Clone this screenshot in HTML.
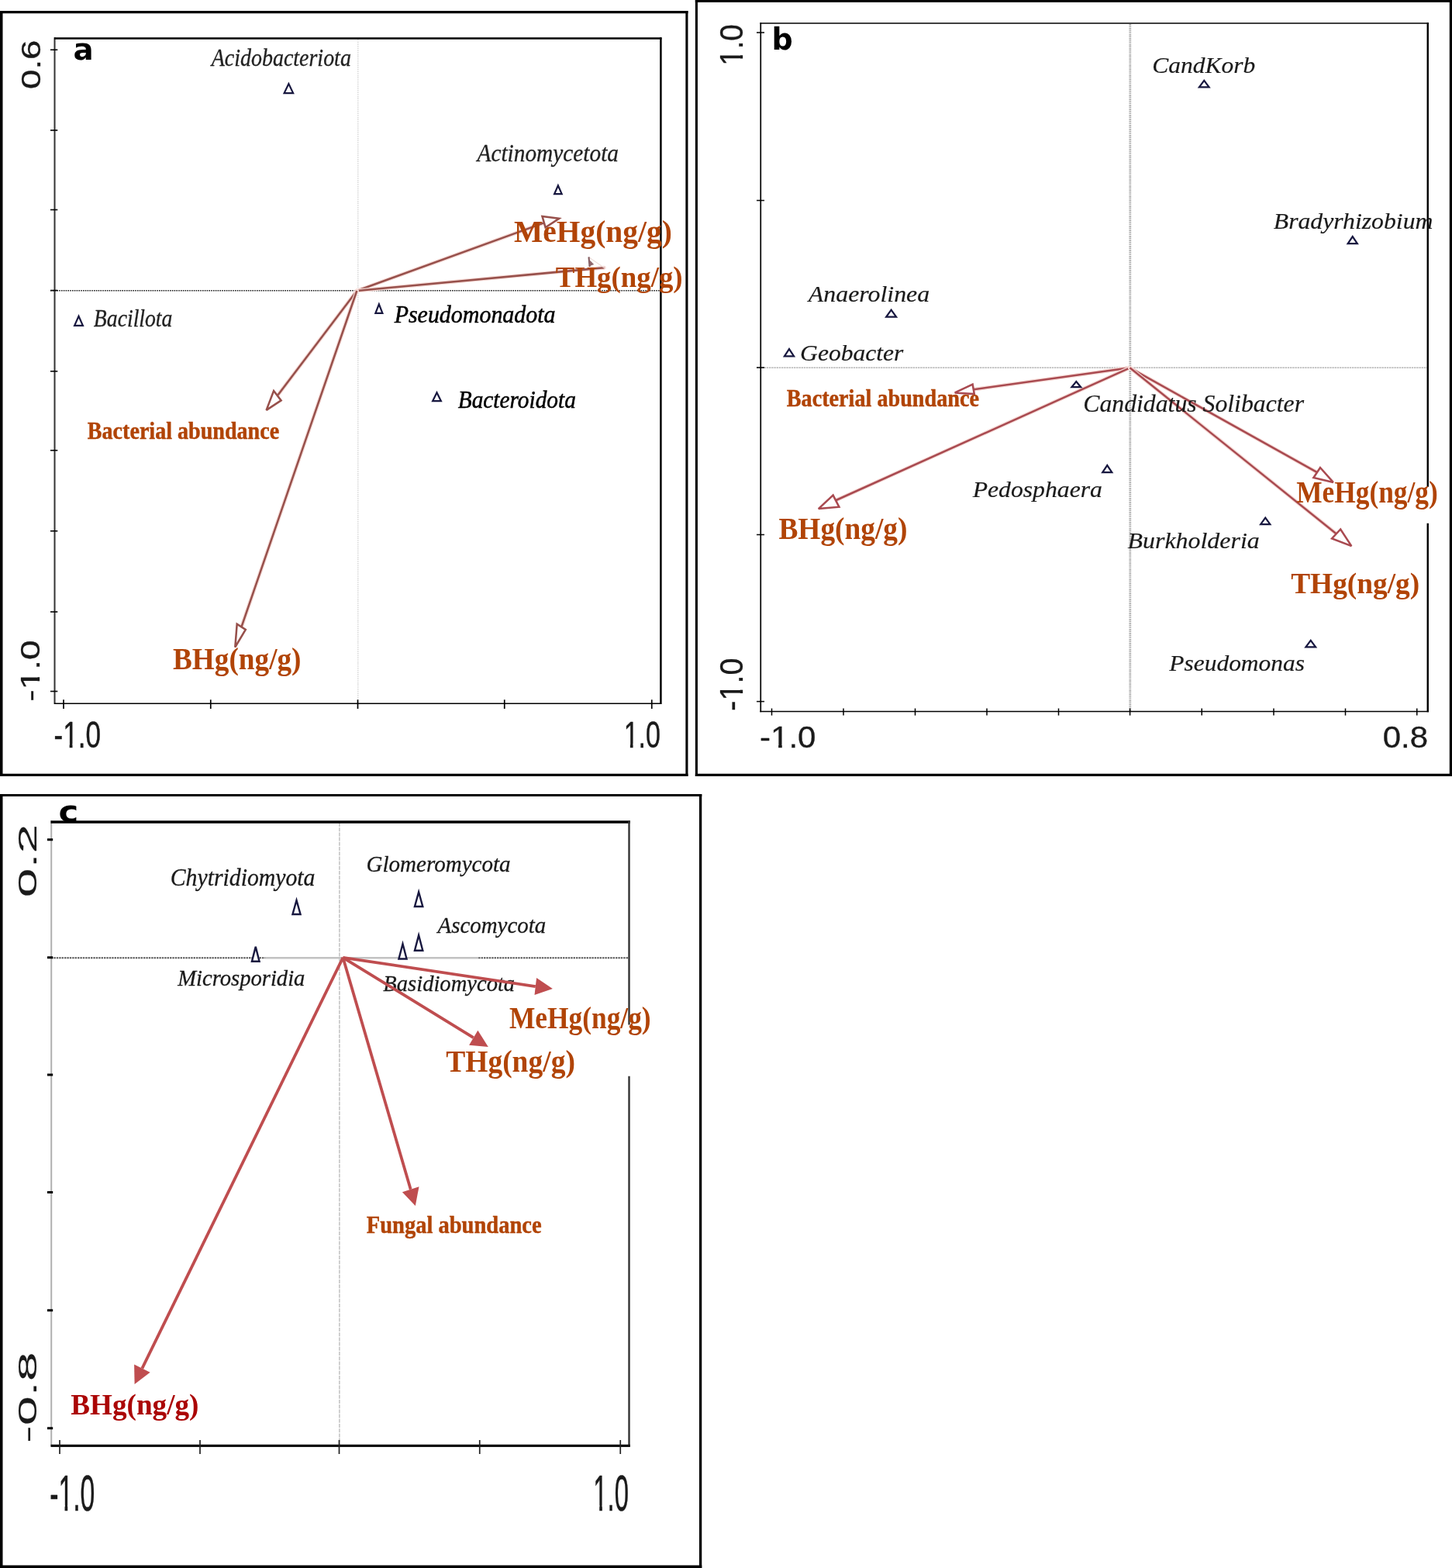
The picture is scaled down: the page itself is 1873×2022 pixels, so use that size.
<!DOCTYPE html>
<html lang="en">
<head>
<meta charset="utf-8">
<title>RDA ordination biplots</title>
<style>
html,body{margin:0;padding:0;background:#fff;}
body{width:1873px;height:2022px;overflow:hidden;}
svg{display:block;}
text{white-space:pre;}
</style>
</head>
<body>
<svg width="1873" height="2022" viewBox="0 0 1873 2022" role="img" aria-label="Ordination biplots a, b and c">
<rect width="1873" height="2022" fill="#fff"/>
<path d="M1.75 14.00 V1000.90" stroke="#000" stroke-width="3.5" fill="none"/>
<path d="M885.9 14.00 V1000.90" stroke="#000" stroke-width="3.1" fill="none"/>
<path d="M0.00 15.6 H887.45" stroke="#000" stroke-width="3.2" fill="none"/>
<path d="M0.00 999.3 H887.45" stroke="#000" stroke-width="3.2" fill="none"/>
<path d="M898.4 0.00 V1000.90" stroke="#000" stroke-width="3.1" fill="none"/>
<path d="M1871.4 0.00 V1000.90" stroke="#000" stroke-width="3.2" fill="none"/>
<path d="M896.85 1.5 H1873.00" stroke="#000" stroke-width="3.0" fill="none"/>
<path d="M896.85 999.3 H1873.00" stroke="#000" stroke-width="3.2" fill="none"/>
<path d="M1.75 1024.00 V2022.00" stroke="#000" stroke-width="3.5" fill="none"/>
<path d="M903.6 1024.00 V2022.00" stroke="#000" stroke-width="3.3" fill="none"/>
<path d="M0.00 1025.5 H905.25" stroke="#000" stroke-width="3.0" fill="none"/>
<path d="M0.00 2020.25 H905.25" stroke="#000" stroke-width="3.5" fill="none"/>
<g id="panel-a">
<line x1="461.8" y1="51" x2="461.8" y2="907" stroke="#d2d2d2" stroke-width="1.3" stroke-dasharray="1.5 1.2"/>
<line x1="65" y1="374.8" x2="852" y2="374.8" stroke="#1e1e1e" stroke-width="1.4" stroke-dasharray="1.6 1.2"/>
<line x1="70.5" y1="48.2" x2="70.5" y2="908" stroke="#333" stroke-width="2.0"/>
<line x1="70" y1="49.5" x2="853.4" y2="49.5" stroke="#000" stroke-width="2.6"/>
<line x1="852.4" y1="48.2" x2="852.4" y2="908" stroke="#000" stroke-width="2.5"/>
<line x1="70" y1="907.25" x2="853" y2="907.25" stroke="#000" stroke-width="1.7"/>
<line x1="65" y1="64.25" x2="74.3" y2="64.25" stroke="#000" stroke-width="1.6"/>
<line x1="65" y1="168" x2="74.3" y2="168" stroke="#000" stroke-width="1.6"/>
<line x1="65" y1="270.5" x2="74.3" y2="270.5" stroke="#000" stroke-width="1.6"/>
<line x1="65" y1="374.5" x2="74.3" y2="374.5" stroke="#000" stroke-width="1.6"/>
<line x1="65" y1="478.75" x2="74.3" y2="478.75" stroke="#000" stroke-width="1.6"/>
<line x1="65" y1="580.75" x2="74.3" y2="580.75" stroke="#000" stroke-width="1.6"/>
<line x1="65" y1="684.75" x2="74.3" y2="684.75" stroke="#000" stroke-width="1.6"/>
<line x1="65" y1="789" x2="74.3" y2="789" stroke="#000" stroke-width="1.6"/>
<line x1="65" y1="891.5" x2="74.3" y2="891.5" stroke="#000" stroke-width="1.6"/>
<line x1="82" y1="902.3" x2="82" y2="914" stroke="#000" stroke-width="1.7"/>
<line x1="271.75" y1="902.3" x2="271.75" y2="914" stroke="#000" stroke-width="1.7"/>
<line x1="461.5" y1="902.3" x2="461.5" y2="914" stroke="#000" stroke-width="1.7"/>
<line x1="650.75" y1="902.3" x2="650.75" y2="914" stroke="#000" stroke-width="1.7"/>
<line x1="840.75" y1="902.3" x2="840.75" y2="914" stroke="#000" stroke-width="1.7"/>
<g transform="matrix(0 -1.1450 0.8929 0 51.55 115.08)"><text font-family='"Liberation Sans", sans-serif' font-style="normal" font-weight="normal" font-size="40" fill="#1a1a1a" stroke="#1a1a1a" stroke-width="0.297" stroke-linejoin="round">0.6</text></g>
<g transform="matrix(0 -1.1509 0.8949 0 51.35 904.72)"><text font-family='"Liberation Sans", sans-serif' font-style="normal" font-weight="normal" font-size="40" fill="#1a1a1a" stroke="#1a1a1a" stroke-width="0.296" stroke-linejoin="round">-1.0</text><rect x="15.22" y="-4.14" width="7.73" height="5.28" fill="#fff"/><rect x="27.35" y="-4.14" width="7.42" height="5.28" fill="#fff"/></g>
<g transform="matrix(0.8765 0 0 1.1920 69.52 964.30)"><text font-family='"Liberation Sans", sans-serif' font-style="normal" font-weight="normal" font-size="40" fill="#1a1a1a" stroke="#1a1a1a" stroke-width="0.391" stroke-linejoin="round">-1.0</text><rect x="15.17" y="-4.18" width="7.78" height="5.38" fill="#fff"/><rect x="27.35" y="-4.18" width="7.47" height="5.38" fill="#fff"/></g>
<g transform="matrix(0.8512 0 0 1.1993 804.66 964.30)"><text font-family='"Liberation Sans", sans-serif' font-style="normal" font-weight="normal" font-size="40" fill="#1a1a1a" stroke="#1a1a1a" stroke-width="0.396" stroke-linejoin="round">1.0</text><rect x="1.85" y="-4.19" width="7.78" height="5.38" fill="#fff"/><rect x="14.02" y="-4.19" width="7.47" height="5.38" fill="#fff"/></g>
<line x1="460.30" y1="375.00" x2="701.00" y2="287.60" stroke="#f6dcd8" stroke-width="4.9" stroke-linecap="round"/>
<line x1="460.30" y1="375.00" x2="701.00" y2="287.60" stroke="#97504b" stroke-width="2.5"/>
<path d="M721.20 281.80 L699.50 279.10 L703.60 293.30 Z" fill="#fff" stroke="#97504b" stroke-width="2.55" stroke-linejoin="miter" stroke-miterlimit="3"/>
<line x1="460.3" y1="375.0" x2="779.3" y2="345.2" stroke="#f6dcd8" stroke-width="4.9" stroke-linecap="round"/>
<line x1="460.3" y1="375.0" x2="779.3" y2="345.2" stroke="#97504b" stroke-width="2.5"/>
<path d="M759.4 331.6 L779.3 345.2" stroke="#ecdcd9" stroke-width="1.2" fill="none"/>
<path d="M759.5 331.4 L760.6 344" stroke="#80595e" stroke-width="2.1" fill="none"/>
<path d="M759.8 334.6 L766.2 340.9 L760.4 343.2 Z" fill="#8d666b"/>
<line x1="460.30" y1="375.00" x2="358.60" y2="509.30" stroke="#f6dcd8" stroke-width="4.9" stroke-linecap="round"/>
<line x1="460.30" y1="375.00" x2="358.60" y2="509.30" stroke="#97504b" stroke-width="2.5"/>
<path d="M343.60 528.90 L353.10 504.00 L362.60 516.40 Z" fill="#fff" stroke="#97504b" stroke-width="2.55" stroke-linejoin="miter" stroke-miterlimit="3"/>
<line x1="460.30" y1="375.00" x2="311.40" y2="808.60" stroke="#f6dcd8" stroke-width="4.9" stroke-linecap="round"/>
<line x1="460.30" y1="375.00" x2="311.40" y2="808.60" stroke="#97504b" stroke-width="2.5"/>
<path d="M303.30 834.50 L305.70 804.70 L316.80 812.00 Z" fill="#fff" stroke="#97504b" stroke-width="2.55" stroke-linejoin="miter" stroke-miterlimit="3"/>
<path d="M366.60 120.15 L372.38 108.01 L378.15 120.15 Z" fill="#fff" stroke="#17173f" stroke-width="2.2" stroke-linejoin="miter"/>
<path d="M715.10 250.15 L719.88 239.26 L724.65 250.15 Z" fill="#fff" stroke="#17173f" stroke-width="2.2" stroke-linejoin="miter"/>
<path d="M96.10 419.90 L101.50 407.76 L106.90 419.90 Z" fill="#fff" stroke="#17173f" stroke-width="2.2" stroke-linejoin="miter"/>
<path d="M484.35 403.90 L488.88 392.26 L493.40 403.90 Z" fill="#fff" stroke="#17173f" stroke-width="2.2" stroke-linejoin="miter"/>
<path d="M558.10 517.15 L563.50 506.26 L568.90 517.15 Z" fill="#fff" stroke="#17173f" stroke-width="2.2" stroke-linejoin="miter"/>
<g transform="matrix(0.6993 0 0 0.8125 272.69 85.35)"><text font-family='"Liberation Serif", serif' font-style="italic" font-weight="normal" font-size="40" fill="#222" stroke="#222" stroke-width="0.398" stroke-linejoin="round">Acidobacteriota</text></g>
<g transform="matrix(0.7336 0 0 0.8125 615.51 207.85)"><text font-family='"Liberation Serif", serif' font-style="italic" font-weight="normal" font-size="40" fill="#222" stroke="#222" stroke-width="0.389" stroke-linejoin="round">Actinomycetota</text></g>
<g transform="matrix(0.6929 0 0 0.7996 120.87 421.10)"><text font-family='"Liberation Serif", serif' font-style="italic" font-weight="normal" font-size="40" fill="#222" stroke="#222" stroke-width="0.403" stroke-linejoin="round">Bacillota</text></g>
<g transform="matrix(0.7489 0 0 0.7634 508.65 416.00)"><text font-family='"Liberation Serif", serif' font-style="italic" font-weight="normal" font-size="40" fill="#000" stroke="#000" stroke-width="0.661" stroke-linejoin="round">Pseudomonadota</text></g>
<g transform="matrix(0.7339 0 0 0.7920 590.71 526.25)"><text font-family='"Liberation Serif", serif' font-style="italic" font-weight="normal" font-size="40" fill="#000" stroke="#000" stroke-width="0.656" stroke-linejoin="round">Bacteroidota</text></g>
<g transform="matrix(0.9863 0 0 0.9847 663.11 311.70)"><text font-family='"Liberation Serif", serif' font-style="normal" font-weight="bold" font-size="40" fill="#b14407">MeHg(ng/g)</text></g>
<g transform="matrix(0.9213 0 0 0.9733 716.85 370.20)"><text font-family='"Liberation Serif", serif' font-style="normal" font-weight="bold" font-size="40" fill="#b14407">THg(ng/g)</text></g>
<g transform="matrix(0.7024 0 0 0.7920 112.80 565.98)"><text font-family='"Liberation Serif", serif' font-style="normal" font-weight="bold" font-size="40" fill="#b14407" stroke="#b14407" stroke-width="0.603" stroke-linejoin="round">Bacterial abundance</text></g>
<g transform="matrix(0.9316 0 0 0.9809 222.94 862.60)"><text font-family='"Liberation Serif", serif' font-style="normal" font-weight="bold" font-size="40" fill="#b14407">BHg(ng/g)</text></g>
<g transform="matrix(0.9685 0 0 0.9375 94.45 77.00)"><text font-family='"DejaVu Sans", "Liberation Sans", sans-serif' font-style="normal" font-weight="bold" font-size="40" fill="#000">a</text></g>
</g>
<g id="panel-b">
<line x1="1457.8" y1="31" x2="1457.8" y2="917" stroke="#b0b0b0" stroke-width="2.8" stroke-dasharray="1.7 0.9"/>
<line x1="976" y1="474.1" x2="1841" y2="474.1" stroke="#a6a6a6" stroke-width="1.1" stroke-dasharray="2.4 0.8"/>
<line x1="981.25" y1="29.2" x2="981.25" y2="918.3" stroke="#000" stroke-width="1.7"/>
<line x1="980.4" y1="30" x2="1843" y2="30" stroke="#000" stroke-width="1.6"/>
<line x1="1841.75" y1="29.2" x2="1841.75" y2="918.3" stroke="#000" stroke-width="2.4"/>
<line x1="980.4" y1="917.5" x2="1843" y2="917.5" stroke="#000" stroke-width="1.7"/>
<line x1="976" y1="42" x2="986" y2="42" stroke="#000" stroke-width="1.5"/>
<line x1="976" y1="258.5" x2="986" y2="258.5" stroke="#000" stroke-width="1.5"/>
<line x1="976" y1="474" x2="986" y2="474" stroke="#000" stroke-width="1.5"/>
<line x1="976" y1="689.5" x2="986" y2="689.5" stroke="#000" stroke-width="1.5"/>
<line x1="976" y1="904.6" x2="986" y2="904.6" stroke="#000" stroke-width="1.5"/>
<line x1="995.5" y1="913.5" x2="995.5" y2="922.6" stroke="#000" stroke-width="1.5"/>
<line x1="1088" y1="913.5" x2="1088" y2="922.6" stroke="#000" stroke-width="1.5"/>
<line x1="1180.5" y1="913.5" x2="1180.5" y2="922.6" stroke="#000" stroke-width="1.5"/>
<line x1="1273" y1="913.5" x2="1273" y2="922.6" stroke="#000" stroke-width="1.5"/>
<line x1="1365.5" y1="913.5" x2="1365.5" y2="922.6" stroke="#000" stroke-width="1.5"/>
<line x1="1457.6" y1="913.5" x2="1457.6" y2="922.6" stroke="#000" stroke-width="1.5"/>
<line x1="1550.25" y1="913.5" x2="1550.25" y2="922.6" stroke="#000" stroke-width="1.5"/>
<line x1="1643" y1="913.5" x2="1643" y2="922.6" stroke="#000" stroke-width="1.5"/>
<line x1="1735.5" y1="913.5" x2="1735.5" y2="922.6" stroke="#000" stroke-width="1.5"/>
<line x1="1827.75" y1="913.5" x2="1827.75" y2="922.6" stroke="#000" stroke-width="1.5"/>
<g transform="matrix(0 -0.9613 1.0761 0 957.85 84.75)"><text font-family='"Liberation Sans", sans-serif' font-style="normal" font-weight="normal" font-size="40" fill="#1a1a1a" stroke="#1a1a1a" stroke-width="0.295" stroke-linejoin="round">1.0</text><rect x="1.90" y="-4.14" width="7.73" height="5.28" fill="#fff"/><rect x="14.02" y="-4.14" width="7.42" height="5.28" fill="#fff"/></g>
<g transform="matrix(0 -0.9863 1.0761 0 957.85 916.63)"><text font-family='"Liberation Sans", sans-serif' font-style="normal" font-weight="normal" font-size="40" fill="#1a1a1a" stroke="#1a1a1a" stroke-width="0.291" stroke-linejoin="round">-1.0</text><rect x="15.22" y="-4.13" width="7.73" height="5.28" fill="#fff"/><rect x="27.35" y="-4.13" width="7.42" height="5.28" fill="#fff"/></g>
<g transform="matrix(1.0511 0 0 0.9674 980.01 964.35)"><text font-family='"Liberation Sans", sans-serif' font-style="normal" font-weight="normal" font-size="40" fill="#1a1a1a" stroke="#1a1a1a" stroke-width="0.298" stroke-linejoin="round">-1.0</text><rect x="15.22" y="-4.14" width="7.73" height="5.29" fill="#fff"/><rect x="27.35" y="-4.14" width="7.42" height="5.29" fill="#fff"/></g>
<g transform="matrix(1.0487 0 0 0.9536 1783.72 964.35)"><text font-family='"Liberation Sans", sans-serif' font-style="normal" font-weight="normal" font-size="40" fill="#1a1a1a" stroke="#1a1a1a" stroke-width="0.300" stroke-linejoin="round">0.8</text></g>
<line x1="1457.50" y1="474.30" x2="1256.00" y2="502.20" stroke="#f6dcd8" stroke-width="4.9" stroke-linecap="round"/>
<line x1="1457.50" y1="474.30" x2="1256.00" y2="502.20" stroke="#a94a50" stroke-width="2.5"/>
<path d="M1231.70 506.40 L1254.60 495.50 L1256.80 508.10 Z" fill="#fff" stroke="#a94a50" stroke-width="2.55" stroke-linejoin="miter" stroke-miterlimit="3"/>
<line x1="1457.50" y1="474.30" x2="1078.60" y2="645.00" stroke="#f6dcd8" stroke-width="4.9" stroke-linecap="round"/>
<line x1="1457.50" y1="474.30" x2="1078.60" y2="645.00" stroke="#a94a50" stroke-width="2.5"/>
<path d="M1055.80 656.10 L1074.60 638.60 L1082.40 653.70 Z" fill="#fff" stroke="#a94a50" stroke-width="2.55" stroke-linejoin="miter" stroke-miterlimit="3"/>
<line x1="1457.50" y1="474.30" x2="1699.00" y2="609.20" stroke="#f6dcd8" stroke-width="4.9" stroke-linecap="round"/>
<line x1="1457.50" y1="474.30" x2="1699.00" y2="609.20" stroke="#a94a50" stroke-width="2.5"/>
<path d="M1719.80 621.90 L1703.00 603.00 L1694.40 616.00 Z" fill="#fff" stroke="#a94a50" stroke-width="2.55" stroke-linejoin="miter" stroke-miterlimit="3"/>
<line x1="1457.50" y1="474.30" x2="1723.60" y2="688.20" stroke="#f6dcd8" stroke-width="4.9" stroke-linecap="round"/>
<line x1="1457.50" y1="474.30" x2="1723.60" y2="688.20" stroke="#a94a50" stroke-width="2.5"/>
<path d="M1743.30 704.10 L1729.20 682.50 L1718.10 694.40 Z" fill="#fff" stroke="#a94a50" stroke-width="2.55" stroke-linejoin="miter" stroke-miterlimit="3"/>
<path d="M1546.90 112.35 L1553.25 103.81 L1559.60 112.35 Z" fill="#fff" stroke="#17173f" stroke-width="2.2" stroke-linejoin="miter"/>
<path d="M1738.65 314.10 L1744.75 305.06 L1750.85 314.10 Z" fill="#fff" stroke="#17173f" stroke-width="2.2" stroke-linejoin="miter"/>
<path d="M1143.15 408.60 L1149.62 399.56 L1156.10 408.60 Z" fill="#fff" stroke="#17173f" stroke-width="2.2" stroke-linejoin="miter"/>
<path d="M1011.90 459.35 L1018.00 450.06 L1024.10 459.35 Z" fill="#fff" stroke="#17173f" stroke-width="2.2" stroke-linejoin="miter"/>
<path d="M1382.40 499.20 L1388.30 492.06 L1394.20 499.20 Z" fill="#fff" stroke="#17173f" stroke-width="2.2" stroke-linejoin="miter"/>
<path d="M1422.20 609.10 L1428.25 600.06 L1434.30 609.10 Z" fill="#fff" stroke="#17173f" stroke-width="2.2" stroke-linejoin="miter"/>
<path d="M1626.15 676.10 L1632.25 667.56 L1638.35 676.10 Z" fill="#fff" stroke="#17173f" stroke-width="2.2" stroke-linejoin="miter"/>
<path d="M1684.40 834.35 L1690.75 825.81 L1697.10 834.35 Z" fill="#fff" stroke="#17173f" stroke-width="2.2" stroke-linejoin="miter"/>
<g transform="matrix(0.7868 0 0 0.7595 1486.37 94.40)"><text font-family='"Liberation Serif", serif' font-style="italic" font-weight="normal" font-size="40" fill="#1a1a1a" stroke="#1a1a1a" stroke-width="0.259" stroke-linejoin="round">CandKorb</text></g>
<g transform="matrix(0.7934 0 0 0.7557 1642.78 294.90)"><text font-family='"Liberation Serif", serif' font-style="italic" font-weight="normal" font-size="40" fill="#1a1a1a" stroke="#1a1a1a" stroke-width="0.258" stroke-linejoin="round">Bradyrhizobium</text></g>
<g transform="matrix(0.7967 0 0 0.7500 1042.85 388.65)"><text font-family='"Liberation Serif", serif' font-style="italic" font-weight="normal" font-size="40" fill="#1a1a1a" stroke="#1a1a1a" stroke-width="0.259" stroke-linejoin="round">Anaerolinea</text></g>
<g transform="matrix(0.7896 0 0 0.7405 1032.11 465.40)"><text font-family='"Liberation Serif", serif' font-style="italic" font-weight="normal" font-size="40" fill="#1a1a1a" stroke="#1a1a1a" stroke-width="0.262" stroke-linejoin="round">Geobacter</text></g>
<g transform="matrix(0.7936 0 0 0.8068 1397.25 531.20)"><text font-family='"Liberation Serif", serif' font-style="italic" font-weight="normal" font-size="40" fill="#1a1a1a" stroke="#1a1a1a" stroke-width="0.250" stroke-linejoin="round">Candidatus Solibacter</text></g>
<g transform="matrix(0.7929 0 0 0.7385 1254.66 640.70)"><text font-family='"Liberation Serif", serif' font-style="italic" font-weight="normal" font-size="40" fill="#1a1a1a" stroke="#1a1a1a" stroke-width="0.261" stroke-linejoin="round">Pedosphaera</text></g>
<g transform="matrix(0.7981 0 0 0.7557 1454.53 707.40)"><text font-family='"Liberation Serif", serif' font-style="italic" font-weight="normal" font-size="40" fill="#1a1a1a" stroke="#1a1a1a" stroke-width="0.258" stroke-linejoin="round">Burkholderia</text></g>
<g transform="matrix(0.7868 0 0 0.7462 1508.26 865.40)"><text font-family='"Liberation Serif", serif' font-style="italic" font-weight="normal" font-size="40" fill="#1a1a1a" stroke="#1a1a1a" stroke-width="0.261" stroke-linejoin="round">Pseudomonas</text></g>
<rect x="1838" y="627.8" width="8" height="47" fill="#fff"/>
<g transform="matrix(0.7046 0 0 0.7805 1014.80 523.67)"><text font-family='"Liberation Serif", serif' font-style="normal" font-weight="bold" font-size="40" fill="#b14407" stroke="#b14407" stroke-width="0.607" stroke-linejoin="round">Bacterial abundance</text></g>
<g transform="matrix(0.9339 0 0 0.9809 1004.44 695.20)"><text font-family='"Liberation Serif", serif' font-style="normal" font-weight="bold" font-size="40" fill="#b14407">BHg(ng/g)</text></g>
<g transform="matrix(0.8836 0 0 0.9771 1672.27 647.60)"><text font-family='"Liberation Serif", serif' font-style="normal" font-weight="bold" font-size="40" fill="#b14407">MeHg(ng/g)</text></g>
<g transform="matrix(0.9344 0 0 0.9695 1665.14 765.40)"><text font-family='"Liberation Serif", serif' font-style="normal" font-weight="bold" font-size="40" fill="#b14407">THg(ng/g)</text></g>
<g transform="matrix(0.9509 0 0 0.9868 995.52 63.75)"><text font-family='"DejaVu Sans", "Liberation Sans", sans-serif' font-style="normal" font-weight="bold" font-size="40" fill="#000">b</text></g>
</g>
<g id="panel-c">
<line x1="437.9" y1="1061" x2="437.9" y2="1863" stroke="#b8b8b8" stroke-width="1.3" stroke-dasharray="5 1.2"/>
<line x1="66" y1="1235.2" x2="342" y2="1235.2" stroke="#555" stroke-width="1.9" stroke-dasharray="2.4 1"/>
<line x1="342" y1="1235.3" x2="617.2" y2="1235.3" stroke="#c2c2c2" stroke-width="2.6"/>
<line x1="617.2" y1="1235.2" x2="812" y2="1235.2" stroke="#555" stroke-width="1.9" stroke-dasharray="2.4 1"/>
<line x1="66.2" y1="1058" x2="66.2" y2="1865" stroke="#b0b0b0" stroke-width="2.0"/>
<line x1="65.5" y1="1060.0" x2="812.8" y2="1060.0" stroke="#000" stroke-width="3.3"/>
<line x1="811.5" y1="1058" x2="811.5" y2="1321.5" stroke="#333" stroke-width="2.4"/>
<line x1="811.5" y1="1387.75" x2="811.5" y2="1865.5" stroke="#333" stroke-width="2.4"/>
<line x1="65.5" y1="1864.4" x2="812.8" y2="1864.4" stroke="#111" stroke-width="3.2"/>
<line x1="61" y1="1082.75" x2="68.2" y2="1082.75" stroke="#000" stroke-width="3.0"/>
<line x1="61" y1="1234.75" x2="68.2" y2="1234.75" stroke="#000" stroke-width="3.0"/>
<line x1="61" y1="1386" x2="68.2" y2="1386" stroke="#000" stroke-width="3.0"/>
<line x1="61" y1="1537.5" x2="68.2" y2="1537.5" stroke="#000" stroke-width="3.0"/>
<line x1="61" y1="1689.75" x2="68.2" y2="1689.75" stroke="#000" stroke-width="3.0"/>
<line x1="61" y1="1841.75" x2="68.2" y2="1841.75" stroke="#000" stroke-width="3.0"/>
<line x1="77" y1="1857" x2="77" y2="1875" stroke="#222" stroke-width="1.7"/>
<line x1="258" y1="1857" x2="258" y2="1875" stroke="#222" stroke-width="1.7"/>
<line x1="437.5" y1="1857" x2="437.5" y2="1875" stroke="#222" stroke-width="1.7"/>
<line x1="618.75" y1="1857" x2="618.75" y2="1875" stroke="#222" stroke-width="1.7"/>
<line x1="800.25" y1="1857" x2="800.25" y2="1875" stroke="#222" stroke-width="1.7"/>
<g transform="matrix(0 -1.6990 0.8429 0 47.42 1157.14)"><text font-family='"Liberation Sans", sans-serif' font-style="normal" font-weight="normal" font-size="40" fill="#1a1a1a" stroke="#1a1a1a" stroke-width="0.125" stroke-linejoin="round">0.2</text></g>
<g transform="matrix(0 -1.7064 0.8518 0 46.92 1861.00)"><text font-family='"Liberation Sans", sans-serif' font-style="normal" font-weight="normal" font-size="40" fill="#1a1a1a" stroke="#1a1a1a" stroke-width="0.124" stroke-linejoin="round">-0.8</text></g>
<g transform="matrix(0.8437 0 0 1.6413 64.18 1947.80)"><text font-family='"Liberation Sans", sans-serif' font-style="normal" font-weight="normal" font-size="40" fill="#1a1a1a" stroke="#1a1a1a" stroke-width="0.340" stroke-linejoin="round">-1.0</text><rect x="15.20" y="-4.16" width="7.75" height="5.33" fill="#fff"/><rect x="27.35" y="-4.16" width="7.44" height="5.33" fill="#fff"/></g>
<g transform="matrix(0.8204 0 0 1.6413 765.33 1947.80)"><text font-family='"Liberation Sans", sans-serif' font-style="normal" font-weight="normal" font-size="40" fill="#1a1a1a" stroke="#1a1a1a" stroke-width="0.345" stroke-linejoin="round">1.0</text><rect x="1.87" y="-4.16" width="7.75" height="5.33" fill="#fff"/><rect x="14.02" y="-4.16" width="7.44" height="5.33" fill="#fff"/></g>
<path d="M377.45 1179.05 L382.50 1160.92 L387.55 1179.05 Z" fill="#fff" stroke="#17173f" stroke-width="2.4" stroke-linejoin="miter"/>
<path d="M324.95 1239.80 L329.75 1220.92 L334.55 1239.80 Z" fill="#fff" stroke="#17173f" stroke-width="2.4" stroke-linejoin="miter"/>
<path d="M534.95 1169.05 L540.12 1150.17 L545.30 1169.05 Z" fill="#fff" stroke="#17173f" stroke-width="2.4" stroke-linejoin="miter"/>
<path d="M534.95 1225.80 L540.12 1205.92 L545.30 1225.80 Z" fill="#fff" stroke="#17173f" stroke-width="2.4" stroke-linejoin="miter"/>
<path d="M514.45 1236.55 L519.50 1217.17 L524.55 1236.55 Z" fill="#fff" stroke="#17173f" stroke-width="2.4" stroke-linejoin="miter"/>
<g transform="matrix(0.7441 0 0 0.7652 219.76 1141.85)"><text font-family='"Liberation Serif", serif' font-style="italic" font-weight="normal" font-size="40" fill="#1a1a1a" stroke="#1a1a1a" stroke-width="0.398" stroke-linejoin="round">Chytridiomyota</text></g>
<g transform="matrix(0.7258 0 0 0.7462 472.55 1124.35)"><text font-family='"Liberation Serif", serif' font-style="italic" font-weight="normal" font-size="40" fill="#1a1a1a" stroke="#1a1a1a" stroke-width="0.408" stroke-linejoin="round">Glomeromycota</text></g>
<g transform="matrix(0.7234 0 0 0.7462 564.49 1203.35)"><text font-family='"Liberation Serif", serif' font-style="italic" font-weight="normal" font-size="40" fill="#1a1a1a" stroke="#1a1a1a" stroke-width="0.408" stroke-linejoin="round">Ascomycota</text></g>
<g transform="matrix(0.7156 0 0 0.7519 229.19 1271.35)"><text font-family='"Liberation Serif", serif' font-style="italic" font-weight="normal" font-size="40" fill="#1a1a1a" stroke="#1a1a1a" stroke-width="0.409" stroke-linejoin="round">Microsporidia</text></g>
<g transform="matrix(0.7144 0 0 0.7519 494.36 1277.60)"><text font-family='"Liberation Serif", serif' font-style="italic" font-weight="normal" font-size="40" fill="#1a1a1a" stroke="#1a1a1a" stroke-width="0.409" stroke-linejoin="round">Basidiomycota</text></g>
<line x1="442.40" y1="1234.80" x2="690.80" y2="1272.05" stroke="#bf4d4f" stroke-width="3.8"/>
<path d="M712.90 1275.00 L692.10 1261.10 L689.50 1283.00 Z" fill="#bf4d4f"/>
<line x1="442.40" y1="1234.80" x2="610.75" y2="1338.20" stroke="#bf4d4f" stroke-width="3.8"/>
<path d="M629.80 1349.90 L616.40 1328.70 L605.10 1347.70 Z" fill="#bf4d4f"/>
<line x1="442.40" y1="1234.80" x2="529.70" y2="1533.75" stroke="#bf4d4f" stroke-width="3.8"/>
<path d="M535.80 1554.90 L540.50 1530.30 L518.90 1537.20 Z" fill="#bf4d4f"/>
<line x1="442.40" y1="1234.80" x2="183.35" y2="1764.65" stroke="#bf4d4f" stroke-width="3.8"/>
<path d="M173.60 1784.90 L173.10 1759.50 L193.60 1769.80 Z" fill="#bf4d4f"/>
<g transform="matrix(0.8843 0 0 0.9809 656.97 1326.30)"><text font-family='"Liberation Serif", serif' font-style="normal" font-weight="bold" font-size="40" fill="#b14407">MeHg(ng/g)</text></g>
<g transform="matrix(0.9379 0 0 0.9809 575.19 1382.30)"><text font-family='"Liberation Serif", serif' font-style="normal" font-weight="bold" font-size="40" fill="#b14407">THg(ng/g)</text></g>
<g transform="matrix(0.7132 0 0 0.7882 472.80 1589.88)"><text font-family='"Liberation Serif", serif' font-style="normal" font-weight="bold" font-size="40" fill="#b14407" stroke="#b14407" stroke-width="0.600" stroke-linejoin="round">Fungal abundance</text></g>
<g transform="matrix(0.9287 0 0 0.9695 91.34 1823.90)"><text font-family='"Liberation Serif", serif' font-style="normal" font-weight="bold" font-size="40" fill="#ab0505">BHg(ng/g)</text></g>
<g transform="matrix(1.0876 0 0 0.9643 75.46 1060.00)"><text font-family='"DejaVu Sans", "Liberation Sans", sans-serif' font-style="normal" font-weight="bold" font-size="40" fill="#000">c</text></g>
</g>
</svg>
</body>
</html>
